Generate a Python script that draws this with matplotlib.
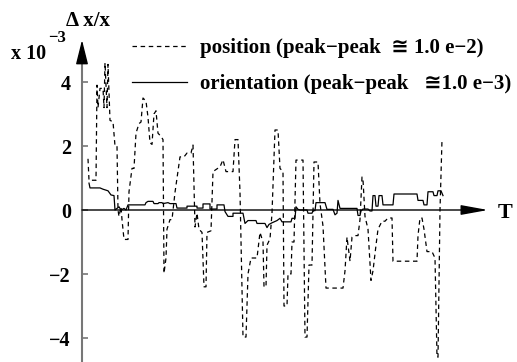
import matplotlib
matplotlib.use("Agg")
import matplotlib.pyplot as plt

plt.rcParams["font.family"] = ["Liberation Serif", "DejaVu Serif", "DejaVu Sans"]
plt.rcParams["font.weight"] = "bold"

# (time, deviation x 1e-3)
position = [(6, 1.6), (7, 0.93), (14, 0.93), (15, 3.9), (16, 3.2), (18, 3.8), (21, 3.8),
            (22, 3.2), (23, 4.6), (25, 3.2), (26, 4.55), (28, 2.8), (31, 2.76), (33, 2.0),
            (35, 2.0), (36, 0.0), (37, -0.2), (39, 0.1), (40, -0.3), (42, -0.92),
            (46, -0.92), (47, 0.57), (50, 1.3), (52, 1.3), (54, 2.4), (57, 2.7),
            (59, 2.75), (61, 3.5), (64, 3.4), (66, 2.9), (68, 2.1), (70, 2.05), (72, 3.0),
            (74, 3.1), (76, 2.4), (79, 2.3), (81, 2.2), (82, -1.98), (84, -1.5),
            (85, -0.6), (88, -0.3), (90, -0.3), (93, 0.55), (95, 1.0), (98, 1.66),
            (102, 1.66), (105, 1.78), (109, 1.78), (111, 2.03), (113, -0.53), (115, -0.1),
            (117, -0.6), (120, -0.7), (122, -2.4), (124, -2.4), (125, -0.7), (129, -0.65),
            (131, 1.2), (138, 1.35), (141, 1.57), (144, 1.2), (151, 1.2), (153, 2.2),
            (156, 2.2), (158, 0.55), (161, -3.97), (164, -3.97), (166, -2.0), (169, -1.5),
            (175, -1.5), (178, -0.7), (181, -1.0), (182, -2.4), (184, -2.4), (185, -1.1),
            (188, -0.9), (190, -0.1), (193, 2.5), (196, 2.5), (198, 1.3), (201, 1.2),
            (202, -3.0), (205, -3.0), (206, -2.0), (209, -2.0), (210, -1.0), (212, -1.0),
            (214, 1.56), (221, 1.56), (223, -3.97), (225, -3.97), (227, -1.72),
            (230, -1.72), (232, 1.5), (236, 1.5), (238, 0.2), (241, -0.5), (244, -2.44),
            (261, -2.44), (263, -1.9), (265, -0.85), (268, -1.6), (270, -0.85),
            (273, -0.8), (276, -0.8), (278, -0.3), (280, 1.03), (281, 0.95), (283, -0.2),
            (286, -0.6), (289, -2.2), (291, -1.9), (294, -1.1), (296, -0.6), (300, -0.35),
            (303, -0.35), (306, -0.25), (310, -0.25), (311, -1.6), (335, -1.6),
            (336, -0.8), (338, -0.25), (340, -0.25), (342, -0.6), (345, -1.3), (350, -1.3),
            (353, -1.5), (355, -4.6), (356, -4.6), (358, 0.0), (360, 2.2)]

orientation = [(7, 0.84), (8, 0.69), (18, 0.69), (21, 0.65), (26, 0.6), (29, 0.47),
               (32, 0.45), (33, 0.0), (35, 0.05), (37, 0.1), (39, 0.0), (42, 0.05),
               (44, 0.0), (46, 0.16), (63, 0.16), (64, 0.23), (66, 0.27), (71, 0.27),
               (72, 0.2), (76, 0.2), (77, 0.23), (80, 0.23), (81, 0.2), (86, 0.23),
               (88, 0.2), (94, 0.2), (95, 0.06), (105, 0.06), (105, 0.12), (115, 0.12),
               (115, 0.06), (121, 0.06), (121, 0.19), (128, 0.19), (128, 0.03), (135, 0.03),
               (135, 0.16), (142, 0.16), (143, -0.05), (146, -0.2), (151, -0.2),
               (151, -0.1), (161, -0.1), (163, -0.42), (166, -0.33), (174, -0.33),
               (175, -0.42), (183, -0.42), (185, -0.55), (187, -0.45), (190, -0.4),
               (195, -0.33), (198, -0.26), (200, -0.37), (209, -0.37), (210, -0.26),
               (213, -0.26), (214, 0.1), (216, 0.02), (218, 0.0), (225, 0.0), (226, -0.1),
               (230, -0.1), (231, -0.02), (233, -0.02), (234, 0.23), (243, 0.23),
               (245, 0.02), (251, 0.02), (253, -0.15), (255, -0.1), (256, 0.3), (258, 0.05),
               (275, 0.05), (276, -0.17), (278, -0.17), (279, -0.03), (281, 0.03),
               (286, 0.03), (288, -0.03), (290, -0.03), (291, 0.45), (293, 0.45),
               (294, 0.12), (296, 0.12), (297, 0.45), (300, 0.45), (301, 0.16), (311, 0.16),
               (312, 0.5), (335, 0.5), (336, 0.3), (341, 0.3), (342, 0.16), (345, 0.16),
               (346, 0.57), (351, 0.57), (352, 0.45), (355, 0.45), (356, 0.6), (359, 0.6),
               (361, 0.45)]

pos_t = [p[0] for p in position]
pos_v = [p[1] for p in position]
ori_t = [p[0] for p in orientation]
ori_v = [p[1] for p in orientation]

y_ticks = [-4, -2, 0, 2, 4]
labels = ["position (peak\u2212peak  \u2245 1.0 e\u22122)",
          "orientation (peak\u2212peak   \u22451.0 e\u22123)"]

FAM = ["Liberation Serif", "DejaVu Serif", "DejaVu Sans"]
W, H = 517, 362
fig = plt.figure(figsize=(W / 100, H / 100), dpi=100)
ax = fig.add_axes([0, 0, 1, 1])
ax.set_xlim(-82, 435)
ax.set_ylim(-4.75, 6.5625)

for s in ["top", "right", "bottom"]:
    ax.spines[s].set_visible(False)
ax.spines["left"].set_position(("data", 0))
ax.spines["left"].set_bounds(-4.75, 5.0)
ax.spines["left"].set_color("#777777")
ax.spines["left"].set_linewidth(1.5)

ax.set_xticks([])
ax.set_yticks(y_ticks)
ax.set_yticklabels([f"{v}".replace("-", "\u2212") for v in y_ticks])
ax.tick_params(axis="y", direction="in", length=4.5, width=1.2, color="#777777",
               pad=8, labelsize=14.5)
for lab in ax.get_yticklabels():
    lab.set_fontweight("bold")

# axis arrows
ax.annotate("", xy=(0, 5.4), xytext=(0, 4.8),
            arrowprops=dict(arrowstyle="-|>,head_length=1.0,head_width=0.25",
                            mutation_scale=15, color="black", lw=1))
ax.annotate("", xy=(406, 0), xytext=(0, 0),
            arrowprops=dict(arrowstyle="-|>,head_length=1.1,head_width=0.2",
                            mutation_scale=15, color="black", lw=1, shrinkA=0, shrinkB=0))

ax.plot(pos_t, pos_v, color="black", lw=0.9, dashes=(3.6, 2.9), label=labels[0])
ax.plot(ori_t, ori_v, color="black", lw=0.9, label=labels[1])

ax.legend(loc="upper left", bbox_to_anchor=(132 / W, 1 - 38 / H), frameon=False,
          handlelength=2.65, handletextpad=0.6, labelspacing=0.78,
          prop=dict(family=FAM, size=15, weight="bold"),
          borderpad=0, borderaxespad=0)

fig.text(505 / W, 1 - 213 / H, "T", ha="center", va="center", fontsize=16, fontweight="bold")
fig.text(88 / W, 1 - 21 / H, "\u0394 x/x", ha="center", va="center", fontsize=15,
         fontweight="bold")
fig.text(11 / W, 1 - 54 / H, "x 10", ha="left", va="center", fontsize=14.5,
         fontweight="bold")
fig.text(48 / W, 1 - 38 / H, "\u22123", ha="left", va="center", fontsize=12,
         fontweight="bold")

fig.savefig("out.png", dpi=100)
